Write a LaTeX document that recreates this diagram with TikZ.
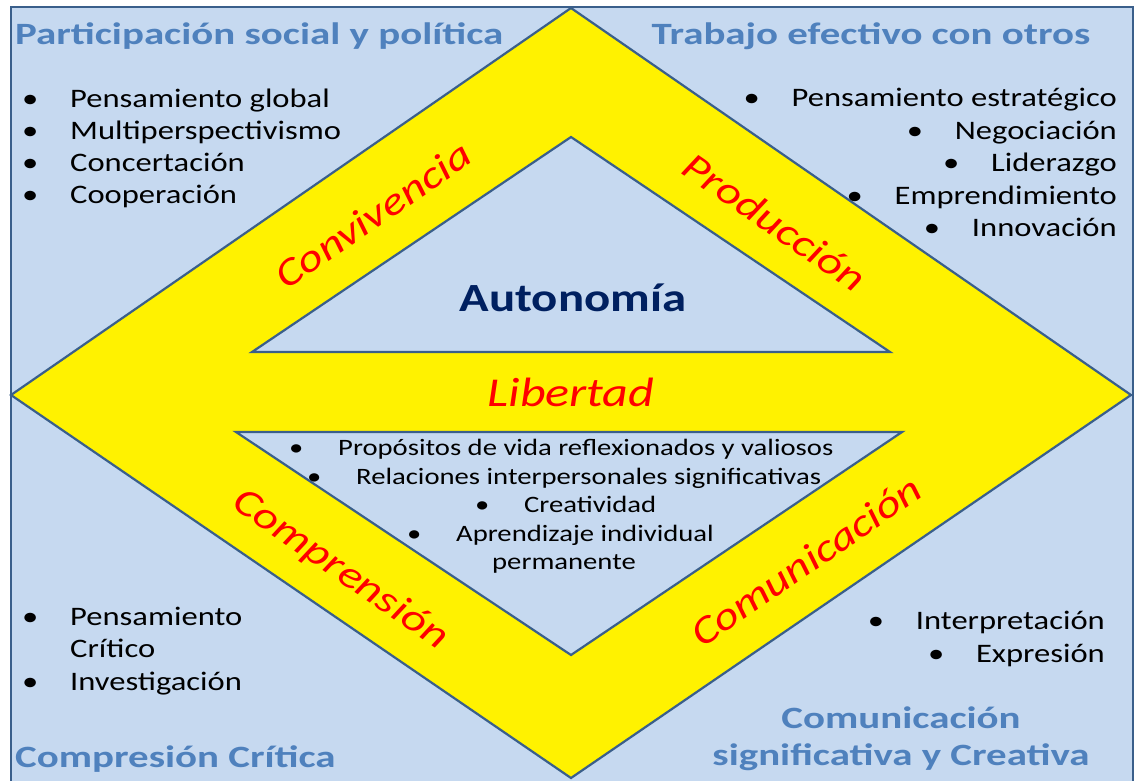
\documentclass[tikz,border=0pt]{standalone}
\usepackage{fontspec}
\setmainfont{Carlito}[FakeStretch=1.22]
\newfontfamily\ttlfont{Carlito}[FakeStretch=1.32]
\definecolor{bgblue}{HTML}{C6D9F0}
\definecolor{edgeblue}{HTML}{3A5F8B}
\definecolor{ttlblue}{HTML}{4F81BD}
\definecolor{navy}{HTML}{002060}
\newcommand\bulA{\makebox[48pt][l]{•}}
\newcommand\bulC{\makebox[49pt][l]{•}}
\begin{document}
\begin{tikzpicture}[x=1pt,y=-1pt,
  shapeline/.style={draw=edgeblue, line width=2.2pt, line join=miter},
  ttlbox/.style={font=\ttlfont\fontsize{31}{36}\selectfont\bfseries, text=ttlblue, inner sep=0pt},
  itembox/.style={font=\fontsize{26.7}{32}\selectfont, inner sep=0pt},
  citem/.style={font=\fontsize{23.5}{28}\selectfont, inner sep=0pt},
  valuebox/.style={font=\fontsize{39}{42}\selectfont\itshape, text=red, inner sep=0pt}]
\useasboundingbox (0,0) rectangle (1135,780);
\clip (0,0) rectangle (1135,780);
\fill[white] (0,0) rectangle (1135,780);
\draw[shapeline, fill=bgblue] (11,7) rectangle (1133,800);
\coordinate (L) at (11,395);
\coordinate (T) at (571,8);
\coordinate (R) at (1131,395);
\coordinate (B) at (571,778);
\draw[shapeline, fill=yellow] (L) -- (T) -- (R) -- (B) -- cycle;
\coordinate (ul) at (252,352);
\coordinate (ut) at (571,137);
\coordinate (ur) at (890,352);
\draw[shapeline, fill=bgblue] (ul) -- (ut) -- (ur) -- cycle;
\coordinate (dl) at (236,432);
\coordinate (dr) at (902,432);
\coordinate (db) at (571,655);
\draw[shapeline, fill=bgblue] (dl) -- (dr) -- (db) -- cycle;

% titles
\node[ttlbox, anchor=base west] (t1) at (15,44) {Participación social y política};
\node[ttlbox, anchor=base] (t2) at (871,44) {Trabajo efectivo con otros};
\node[ttlbox, anchor=base west] (t3) at (15,767) {Compresión Crítica};
\node[ttlbox, anchor=base] (t4) at (901,728) {Comunicación};
\node[ttlbox, anchor=base] (t5) at (901,765) {significativa y Creativa};

% top-left list
\node[itembox, anchor=base west] (a1) at (22,107) {\bulA Pensamiento global};
\node[itembox, anchor=base west] (a2) at (22,139) {\bulA Multiperspectivismo};
\node[itembox, anchor=base west] (a3) at (22,171.5) {\bulA Concertación};
\node[itembox, anchor=base west] (a4) at (22,203.5) {\bulA Cooperación};

% top-right list
\node[itembox, anchor=base east] (b1) at (1117,106) {\bulA Pensamiento estratégico};
\node[itembox, anchor=base east] (b2) at (1117,139) {\bulA Negociación};
\node[itembox, anchor=base east] (b3) at (1117,171.5) {\bulA Liderazgo};
\node[itembox, anchor=base east] (b4) at (1117,204) {\bulA Emprendimiento};
\node[itembox, anchor=base east] (b5) at (1117,236.5) {\bulA Innovación};

% bottom-left list
\node[itembox, anchor=base west] (c1) at (22,625) {\bulA Pensamiento};
\node[itembox, anchor=base west] (c2) at (70,657) {Crítico};
\node[itembox, anchor=base west] (c3) at (22,690) {\bulA Investigación};

% bottom-right list
\node[itembox, anchor=base east] (d1) at (1105,629) {\bulA Interpretación};
\node[itembox, anchor=base east] (d2) at (1105,662) {\bulA Expresión};

% center list
\node[citem, anchor=base west] (e1) at (289,455) {\bulC Propósitos de vida reflexionados y valiosos};
\node[citem, anchor=base west] (e2) at (307,484) {\bulC Relaciones interpersonales significativas};
\node[citem, anchor=base west] (e3) at (475,512) {\bulC Creatividad};
\node[citem, anchor=base west] (e4) at (407,541) {\bulC Aprendizaje individual};
\node[citem, anchor=base] (e5) at (564,569) {permanente};

% centre words
\node[font=\fontsize{40}{44}\selectfont\bfseries, text=navy, inner sep=0pt] (auto) at (573,298) {Autonomía};
\node[font=\fontsize{41}{44}\selectfont\itshape, text=red, inner sep=0pt] (lib) at (571,392) {Libertad};
\node[valuebox, rotate=34.65] (conv) at (373,215) {Convivencia};
\node[valuebox, rotate=-34.65] (prod) at (775,222) {Producción};
\node[valuebox, rotate=-34.65] (comp) at (340,570) {Comprensión};
\node[valuebox, rotate=34.65] (comu) at (806,561) {Comunicación};
\end{tikzpicture}
\end{document}
